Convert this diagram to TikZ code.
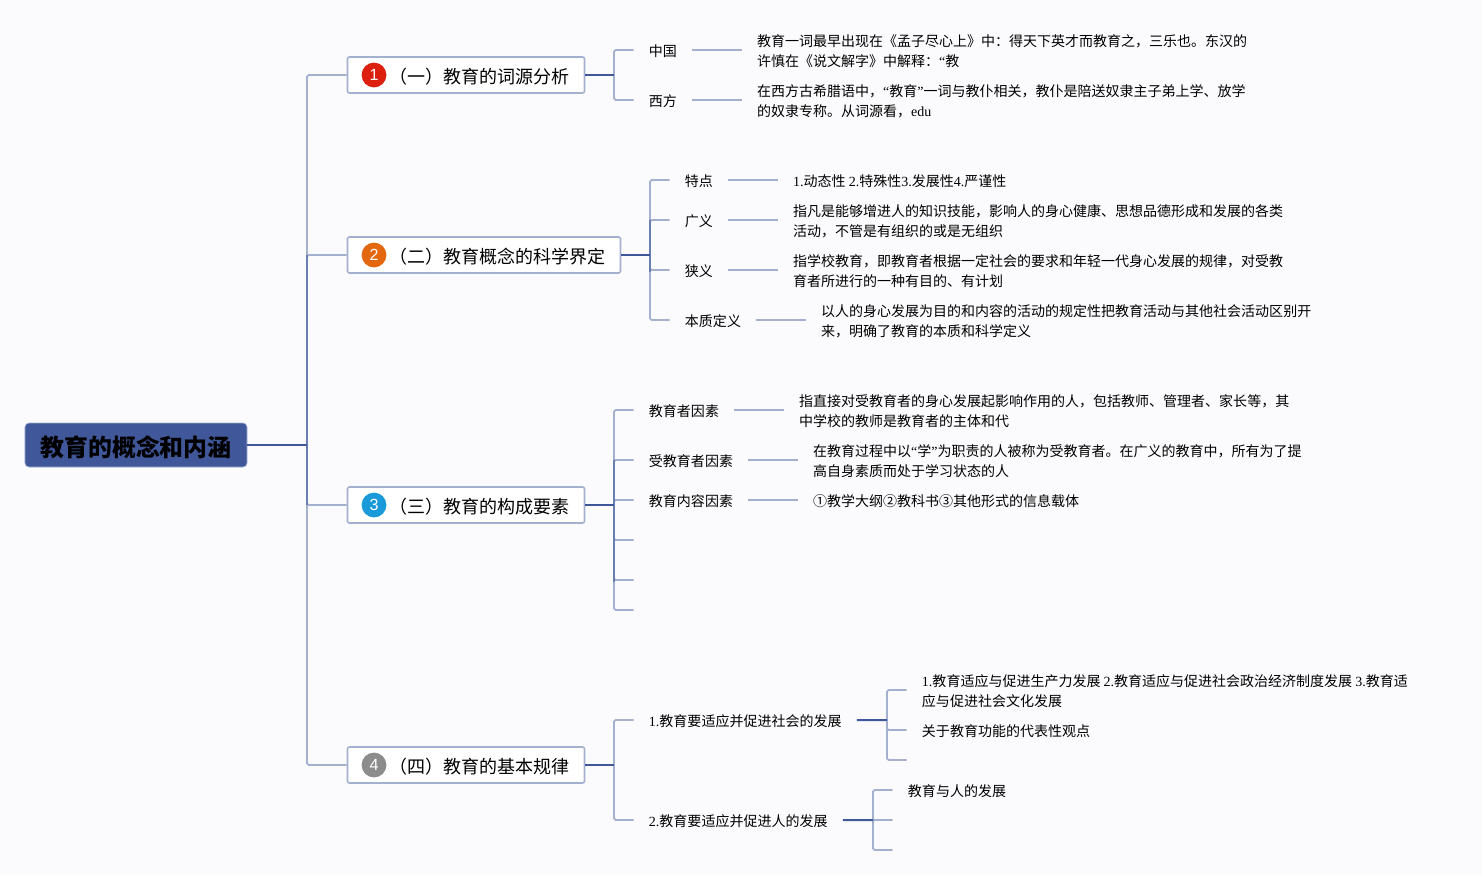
\documentclass[tikz,border=0pt]{standalone}
\usepackage{fontspec}
\setmainfont{Noto Sans CJK SC}
\newfontfamily\latfont{Liberation Serif}
\newfontfamily\numfont{Liberation Sans}
\usetikzlibrary{positioning}
\definecolor{paper}{HTML}{FBFBFD}
\definecolor{lineLight}{HTML}{A3B1CF}
\definecolor{lineMid}{HTML}{6A7EB0}
\definecolor{lineDark}{HTML}{40589A}
\definecolor{icRed}{HTML}{DD1F0F}
\definecolor{icOrange}{HTML}{E3670F}
\definecolor{icBlue}{HTML}{1B9AD9}
\definecolor{icGray}{HTML}{8C8C8C}
\begin{document}
\begin{tikzpicture}[x=0.25mm,y=-0.25mm,
  twig/.style={lineLight,line width=0.45mm,rounded corners=0.4mm},
  midline/.style={lineMid,line width=0.45mm},
  stem/.style={lineDark,line width=0.5mm},
  rootbox/.style={fill=lineDark,draw=lineLight,line width=0.15mm,rounded corners=1mm,minimum width=55.5mm,minimum height=11mm,inner sep=0pt,font=\fontsize{17}{20}\selectfont\bfseries},
  brbox/.style={fill=white,draw=lineLight,line width=0.4mm,rounded corners=0.5mm,minimum height=9mm,anchor=west,inner sep=0pt},
  brtext/.style={inner sep=0pt,yshift=-0.375mm,font=\fontsize{12.8}{15}\selectfont},
  badge/.style={circle,fill=#1,minimum size=6.2mm,inner sep=0pt,text=white,font=\fontsize{11.5}{12}\numfont},
  lbl/.style={inner sep=0pt,anchor=west,font=\fontsize{9.96}{14.2}\selectfont},
  val/.style={lbl,align=left,right=19.9mm of #1}]
\fill[paper] (0,0) rectangle (1482,875);
\useasboundingbox (0,0) rectangle (1482,875);
\node[rootbox] (root) at (136,445) {\raisebox{-0.5mm}[\height][\depth]{教育的概念和内涵}};
\coordinate (trunk) at (307,445);
\node[brbox,minimum width=59.25mm] (br1) at (346.7,75) {};
\node[brbox,minimum width=68.25mm] (br2) at (346.7,255) {};
\node[brbox,minimum width=59.25mm] (br3) at (346.7,505) {};
\node[brbox,minimum width=59.25mm] (br4) at (346.7,765) {};
\node[badge=icRed] (ic1) at (374,75) {1};
\node[badge=icOrange] (ic2) at (374,255) {2};
\node[badge=icBlue] (ic3) at (374,505) {3};
\node[badge=icGray] (ic4) at (374,765) {4};
\node[brtext,right=0.6mm of ic1] {（一）教育的词源分析};
\node[brtext,right=0.6mm of ic2] {（二）教育概念的科学界定};
\node[brtext,right=0.6mm of ic3] {（三）教育的构成要素};
\node[brtext,right=0.6mm of ic4] {（四）教育的基本规律};
\coordinate (hubA) at (614,75);
\coordinate (hubB) at (650,255);
\coordinate (hubC) at (614,505);
\coordinate (hubD) at (614,765);
\coordinate (hubE) at (887,720);
\coordinate (hubF) at (873,820);
\node[lbl] (zg) at (648.7,51.5) {中国};
\node[lbl] (xf) at (648.7,101.5) {西方};
\node[val=zg] (zgv) {教育一词最早出现在《孟子尽心上》中：得天下英才而教育之，三乐也。东汉的\\许慎在《说文解字》中解释：{\latfont “}教};
\node[val=xf] (xfv) {在西方古希腊语中，{\latfont “}教育{\latfont ”}一词与教仆相关，教仆是陪送奴隶主子弟上学、放学\\的奴隶专称。从词源看，{\latfont edu}};
\node[lbl] (td) at (684.7,181.5) {特点};
\node[lbl] (gy) at (684.7,221.5) {广义};
\node[lbl] (xy) at (684.7,271.5) {狭义};
\node[lbl] (bz) at (684.7,321.5) {本质定义};
\node[val=td] (tdv) {{\latfont 1.}动态性 {\latfont 2.}特殊性{\latfont 3.}发展性{\latfont 4.}严谨性};
\node[val=gy] (gyv) {指凡是能够增进人的知识技能，影响人的身心健康、思想品德形成和发展的各类\\活动，不管是有组织的或是无组织};
\node[val=xy] (xyv) {指学校教育，即教育者根据一定社会的要求和年轻一代身心发展的规律，对受教\\育者所进行的一种有目的、有计划};
\node[val=bz] (bzv) {以人的身心发展为目的和内容的活动的规定性把教育活动与其他社会活动区别开\\来，明确了教育的本质和科学定义};
\node[lbl] (jy) at (648.7,411.5) {教育者因素};
\node[lbl] (sj) at (648.7,461.5) {受教育者因素};
\node[lbl] (nr) at (648.7,501.5) {教育内容因素};
\node[val=jy] (jyv) {指直接对受教育者的身心发展起影响作用的人，包括教师、管理者、家长等，其\\中学校的教师是教育者的主体和代};
\node[val=sj] (sjv) {在教育过程中以{\latfont “}学{\latfont ”}为职责的人被称为受教育者。在广义的教育中，所有为了提\\高自身素质而处于学习状态的人};
\node[val=nr] (nrv) {①教学大纲②教科书③其他形式的信息载体};
\coordinate (c4) at (648.7,541.5);
\coordinate (c5) at (648.7,581.5);
\coordinate (c6) at (648.7,611.5);
\node[lbl] (sh) at (648.7,721.5) {{\latfont 1.}教育要适应并促进社会的发展};
\node[lbl] (rn) at (648.7,821.5) {{\latfont 2.}教育要适应并促进人的发展};
\node[lbl,align=left] (e1) at (921.7,691.5) {{\latfont 1.}教育适应与促进生产力发展 {\latfont 2.}教育适应与促进社会政治经济制度发展 {\latfont 3.}教育适\\应与促进社会文化发展};
\node[lbl] (e2) at (921.7,731.5) {关于教育功能的代表性观点};
\coordinate (e3) at (921.7,761.5);
\node[lbl] (f1) at (907.7,791.5) {教育与人的发展};
\coordinate (f2) at (907.7,821.5);
\coordinate (f3) at (907.7,851.5);
\foreach \k in {1,2,3,4}
  \draw[twig] (trunk) |- (br\k.west);
\draw[midline] (trunk |- br2.west) -- (trunk |- br3.west);
\foreach \k in {zg,xf}
  \draw[twig] (hubA) |- ([xshift=-3.75mm,yshift=0.375mm]\k.west);
\foreach \k in {td,gy,xy,bz}
  \draw[twig] (hubB) |- ([xshift=-3.75mm,yshift=0.375mm]\k.west);
\foreach \k in {jy,sj,nr,c4,c5,c6}
  \draw[twig] (hubC) |- ([xshift=-3.75mm,yshift=0.375mm]\k.west);
\foreach \k in {sh,rn}
  \draw[twig] (hubD) |- ([xshift=-3.75mm,yshift=0.375mm]\k.west);
\foreach \k in {e1,e2,e3}
  \draw[twig] (hubE) |- ([xshift=-3.75mm,yshift=0.375mm]\k.west);
\foreach \k in {f1,f2,f3}
  \draw[twig] (hubF) |- ([xshift=-3.75mm,yshift=0.375mm]\k.west);
\draw[midline] (hubB |- gy.west) ++(0,-1.5) -- (hubB |- xy.west);
\draw[midline] (hubC |- sj.west) ++(0,-1.5) -- (hubC |- c5);
\foreach \k in {zg,xf,td,gy,xy,bz,jy,sj,nr}
  \draw[twig] ([xshift=3.75mm,yshift=0.375mm]\k.east) -- ([xshift=-3.75mm,yshift=0.375mm]\k v.west);
\draw[stem] (root) -- (trunk);
\draw[stem] (br1) -- (hubA);
\draw[stem] (br2) -- (hubB);
\draw[stem] (br3) -- (hubC);
\draw[stem] (br4) -- (hubD);
\draw[stem] ([xshift=3.75mm,yshift=0.375mm]sh.east) -- (hubE);
\draw[stem] ([xshift=3.75mm,yshift=0.375mm]rn.east) -- (hubF);
\end{tikzpicture}
\end{document}
